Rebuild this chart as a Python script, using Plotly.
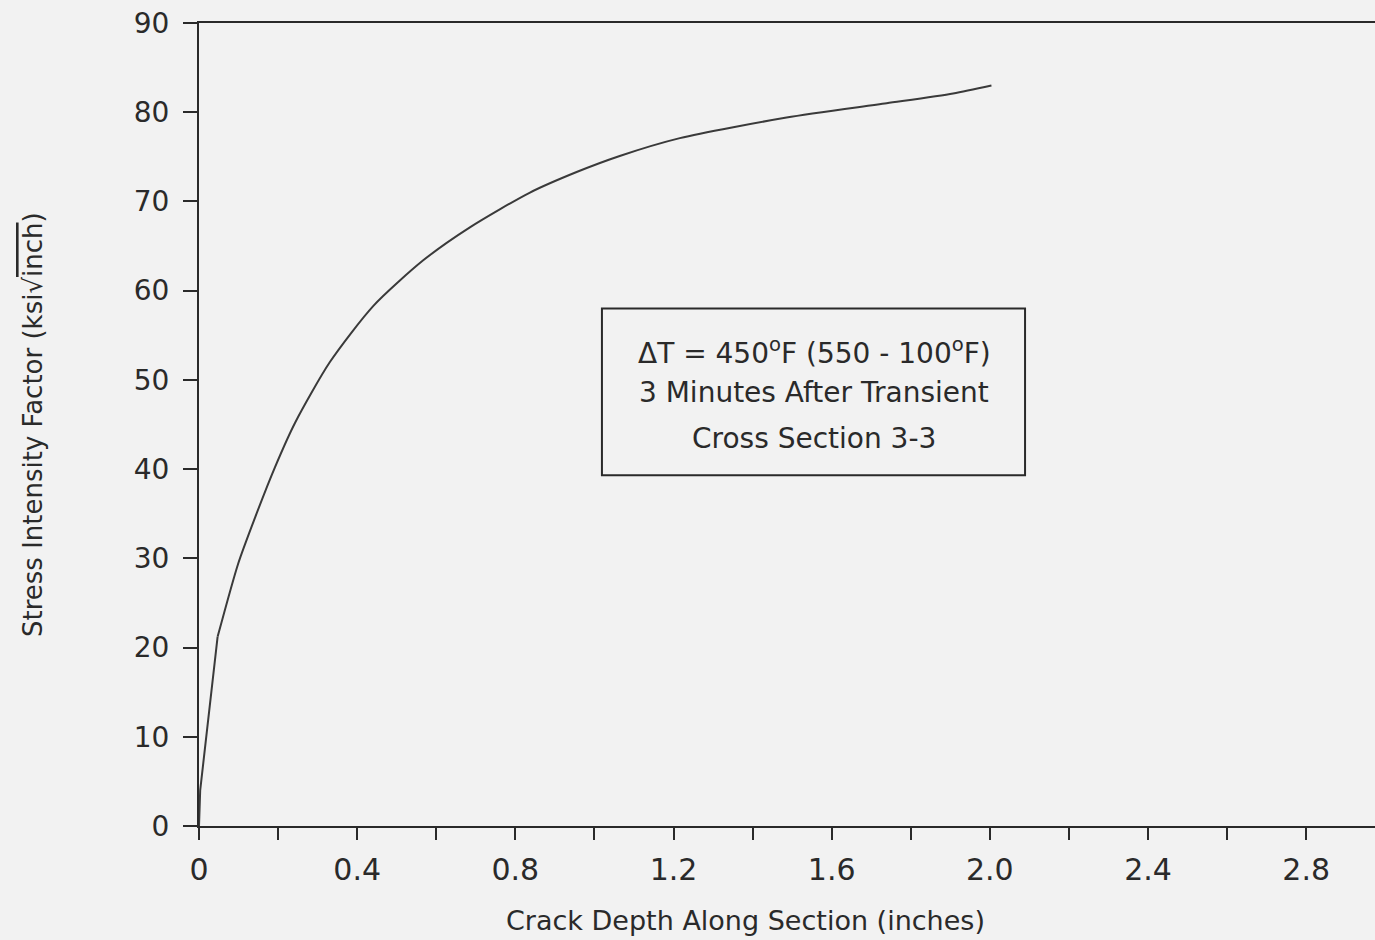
import plotly.graph_objects as go

# Data
crack_depth = [0, 0.003, 0.047, 0.099, 0.142, 0.192, 0.243, 0.331, 0.441, 0.567, 0.685,
               0.837, 0.955, 1.064, 1.216, 1.486, 1.739, 1.907, 2.004]
stress_k = [0, 4.0, 21.2, 29.4, 34.6, 40.2, 45.2, 52.0, 58.3, 63.4, 67.1,
            71.0, 73.3, 75.1, 77.1, 79.4, 81.0, 82.1, 83.0]

x_tickvals = [0, 0.4, 0.8, 1.2, 1.6, 2.0, 2.4, 2.8]
x_ticktext = ["0", "0.4", "0.8", "1.2", "1.6", "2.0", "2.4", "2.8"]
x_minor_tickvals = [0.2, 0.6, 1.0, 1.4, 1.8, 2.2, 2.6]
y_tickvals = [0, 10, 20, 30, 40, 50, 60, 70, 80, 90]
y_ticktext = ["0", "10", "20", "30", "40", "50", "60", "70", "80", "90"]

box_lines = [
    "\u0394T = 450<sup>o</sup>F (550 - 100<sup>o</sup>F)",
    "3 Minutes After Transient",
    "Cross Section 3-3",
]
box_line_y = [53.2, 48.6, 43.4]

x_title = "Crack Depth Along Section (inches)"
y_title = "Stress Intensity Factor (ksi\u221a<span style='text-decoration:overline'>inch</span>)"

INK = "#2a2a2a"
BG = "#f2f2f2"
FONT = "DejaVu Sans, Liberation Sans, Arial, sans-serif"

W, H = 1375, 940
L, R, T, B = 199, 0, 23, 114

fig = go.Figure()
# steep near-linear start (with visible kink), then smooth curve
fig.add_trace(go.Scatter(x=crack_depth[:3], y=stress_k[:3], mode="lines",
                         line=dict(color="#3a3a3a", width=2), showlegend=False,
                         hoverinfo="skip"))
fig.add_trace(go.Scatter(x=crack_depth[2:], y=stress_k[2:], mode="lines",
                         line=dict(color="#3a3a3a", width=2, shape="spline", smoothing=0.7),
                         showlegend=False, hoverinfo="skip"))

fig.update_layout(
    width=W, height=H,
    margin=dict(l=L, r=R, t=T, b=B),
    paper_bgcolor=BG, plot_bgcolor=BG,
    font=dict(family=FONT, color=INK),
    xaxis=dict(range=[0, 2.974], showgrid=False, zeroline=False,
               showline=True, linecolor=INK, linewidth=2, mirror=True,
               ticks="outside", ticklen=12, tickwidth=2, tickcolor=INK,
               tickmode="array", tickvals=x_tickvals, ticktext=x_ticktext,
               minor=dict(tickmode="array", tickvals=x_minor_tickvals, ticks="outside",
                          ticklen=12, tickwidth=2, tickcolor=INK, showgrid=False),
               tickfont=dict(size=30, family=FONT, color=INK),
               ticklabelstandoff=4),
    yaxis=dict(range=[0, 90], showgrid=False, zeroline=False,
               showline=True, linecolor=INK, linewidth=2,
               ticks="outside", ticklen=14, tickwidth=2, tickcolor=INK,
               tickmode="array", tickvals=y_tickvals, ticktext=y_ticktext,
               tickfont=dict(size=28, family=FONT, color=INK),
               ticklabelstandoff=8),
)

# Annotation box
fig.add_shape(type="rect", xref="x", yref="y", x0=1.019, x1=2.089, y0=39.3, y1=58.0,
              line=dict(color=INK, width=2), fillcolor="rgba(0,0,0,0)")
for txt, yy in zip(box_lines, box_line_y):
    fig.add_annotation(x=1.556, y=yy, xref="x", yref="y", text=txt, showarrow=False,
                       font=dict(size=28, family=FONT, color=INK),
                       xanchor="center", yanchor="middle")

pw, ph = W - L - R, H - T - B
fig.add_annotation(x=(745 - L) / pw, y=-(920 - (H - B)) / ph, xref="paper", yref="paper",
                   text=x_title, showarrow=False, xanchor="center", yanchor="middle",
                   font=dict(size=27, family=FONT, color=INK))
fig.add_annotation(x=-(L - 33) / pw, y=((H - B) - 425) / ph, xref="paper", yref="paper",
                   text=y_title, textangle=-90, showarrow=False, xanchor="center", yanchor="middle",
                   font=dict(size=26, family=FONT, color=INK))

fig.write_html("out.html", config={"displayModeBar": False},
               post_script="document.body.style.margin='0';document.body.style.background='#f2f2f2';")
